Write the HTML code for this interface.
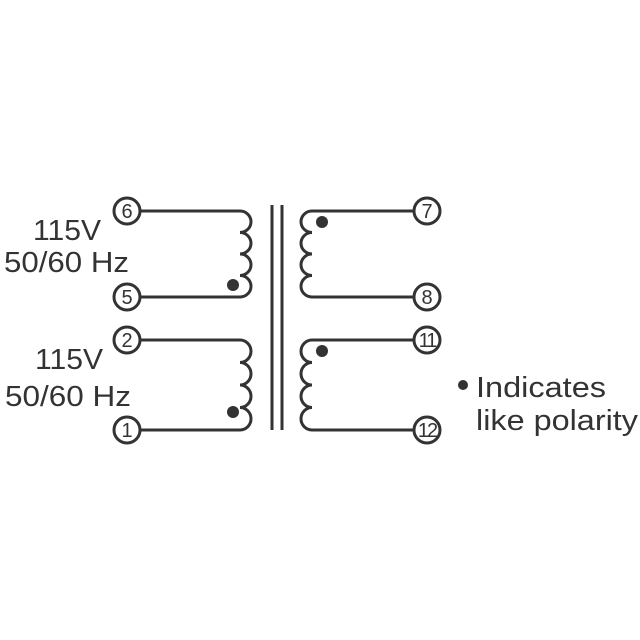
<!DOCTYPE html>
<html><head><style>body{margin:0;background:#fff}svg{display:block}</style></head><body>
<svg width="640" height="640" viewBox="0 0 640 640" xmlns="http://www.w3.org/2000/svg">
<g fill="none" stroke="#333" stroke-width="3">
<line x1="272" y1="205" x2="272" y2="430"/>
<line x1="282" y1="205" x2="282" y2="430"/>
<path d="M140 211 H240 A11 10.75 0 0 1 240 232.5 A11 10.75 0 0 1 240 254 A11 10.75 0 0 1 240 275.5 A11 10.75 0 0 1 240 297 H140"/>
<path d="M140 340 H240 A11 11.25 0 0 1 240 362.5 A11 11.25 0 0 1 240 385 A11 11.25 0 0 1 240 407.5 A11 11.25 0 0 1 240 430 H140"/>
<path d="M414 211 H312 A11 10.75 0 0 0 312 232.5 A11 10.75 0 0 0 312 254 A11 10.75 0 0 0 312 275.5 A11 10.75 0 0 0 312 297 H414"/>
<path d="M414 340 H312 A11 11.25 0 0 0 312 362.5 A11 11.25 0 0 0 312 385 A11 11.25 0 0 0 312 407.5 A11 11.25 0 0 0 312 430 H414"/>
<circle cx="127" cy="211" r="13" fill="#fff"/>
<circle cx="127" cy="297" r="13" fill="#fff"/>
<circle cx="127" cy="340" r="13" fill="#fff"/>
<circle cx="127" cy="430" r="13" fill="#fff"/>
<circle cx="427" cy="211" r="13" fill="#fff"/>
<circle cx="427" cy="297" r="13" fill="#fff"/>
<circle cx="427" cy="340" r="13" fill="#fff"/>
<circle cx="427" cy="430" r="13" fill="#fff"/>
</g>
<g fill="#333">
<circle cx="233" cy="285" r="6"/>
<circle cx="233" cy="412" r="6"/>
<circle cx="322" cy="222" r="6"/>
<circle cx="322" cy="351" r="6"/>
<circle cx="463" cy="385" r="5"/>
</g>
<g font-family="Liberation Sans, sans-serif" fill="#333" text-anchor="middle" font-size="20">
<text x="127" y="218">6</text><text x="127" y="304">5</text>
<text x="127" y="347">2</text><text x="127" y="437">1</text>
<text x="427" y="218">7</text><text x="427" y="304">8</text>
<text x="427" y="347" letter-spacing="-2">11</text><text x="427" y="437" letter-spacing="-2">12</text>
</g>
<g font-family="Liberation Sans, sans-serif" fill="#333" font-size="29">
<text x="33" y="240" textLength="68" lengthAdjust="spacingAndGlyphs">115V</text>
<text x="4" y="272" textLength="125" lengthAdjust="spacingAndGlyphs">50/60 Hz</text>
<text x="35" y="369" textLength="68" lengthAdjust="spacingAndGlyphs">115V</text>
<text x="5" y="406" textLength="126" lengthAdjust="spacingAndGlyphs">50/60 Hz</text>
<text x="476" y="397" textLength="130" lengthAdjust="spacingAndGlyphs">Indicates</text>
<text x="476" y="430" textLength="162" lengthAdjust="spacingAndGlyphs">like polarity</text>
</g>
</svg>
</body></html>
